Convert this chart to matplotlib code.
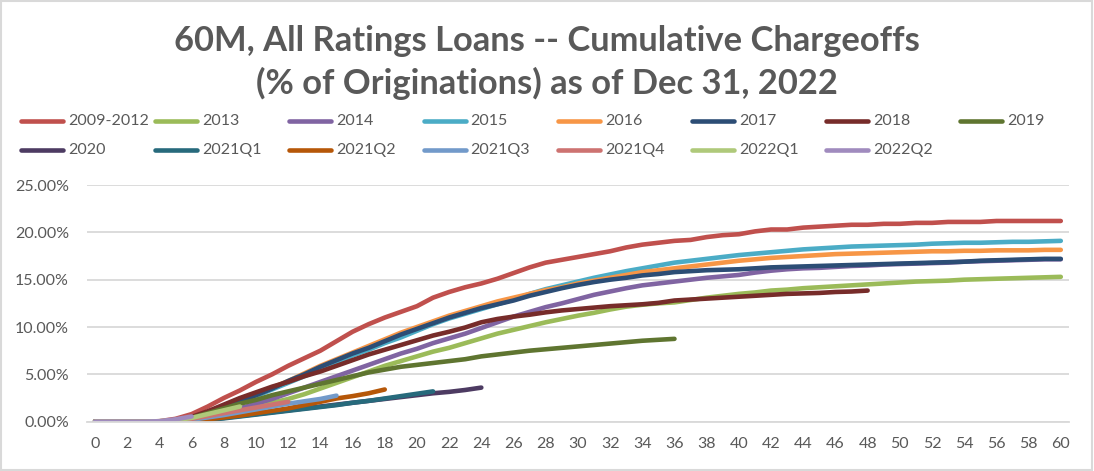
import numpy as np
import matplotlib.pyplot as plt
from matplotlib.lines import Line2D
from matplotlib.patches import Rectangle

plt.rcParams['font.family'] = ['Lato', 'DejaVu Sans']

# cumulative chargeoffs (% of originations) by month on book
vintages = ['2009-2012', '2013', '2014', '2015', '2016', '2017', '2018', '2019',
            '2020', '2021Q1', '2021Q2', '2021Q3', '2021Q4', '2022Q1', '2022Q2']
colors = ['#C0504D', '#9BBB59', '#8064A2', '#4BACC6', '#F79646', '#2C4D75', '#772C2A', '#5F7530',
          '#4D3B62', '#276A7C', '#B65708', '#729ACA', '#CD7371', '#AFC97A', '#A08BBE']

v2009_2012 = [0, 0, 0, 0, 0.05, 0.3, 0.8, 1.6, 2.5, 3.3,
              4.2, 5.0, 5.9, 6.7, 7.5, 8.5, 9.5, 10.3, 11.0, 11.6,
              12.2, 13.1, 13.7, 14.2, 14.6, 15.1, 15.7, 16.3, 16.8, 17.1,
              17.4, 17.7, 18.0, 18.4, 18.7, 18.9, 19.1, 19.2, 19.5, 19.7,
              19.8, 20.1, 20.3, 20.3, 20.5, 20.6, 20.7, 20.8, 20.8, 20.9,
              20.9, 21.0, 21.0, 21.1, 21.1, 21.1, 21.2, 21.2, 21.2, 21.2, 21.2]
v2013 = [0, 0, 0, 0, 0, 0.05, 0.2, 0.5, 0.9, 1.3,
         1.6, 2.0, 2.4, 2.9, 3.5, 4.1, 4.7, 5.3, 5.9, 6.4,
         6.9, 7.4, 7.8, 8.3, 8.8, 9.3, 9.7, 10.1, 10.5, 10.85,
         11.2, 11.5, 11.85, 12.15, 12.35, 12.5, 12.6, 12.85, 13.1, 13.3,
         13.5, 13.65, 13.85, 13.95, 14.1, 14.2, 14.3, 14.4, 14.5, 14.6,
         14.7, 14.8, 14.85, 14.9, 15.0, 15.05, 15.1, 15.15, 15.2, 15.25, 15.3]
v2014 = [0, 0, 0, 0, 0, 0.05, 0.2, 0.5, 0.9, 1.4,
         1.9, 2.4, 3.0, 3.6, 4.2, 4.8, 5.4, 6.0, 6.6, 7.2,
         7.7, 8.3, 8.8, 9.3, 9.9, 10.5, 11.1, 11.6, 12.1, 12.5,
         12.95, 13.4, 13.75, 14.1, 14.4, 14.6, 14.8, 15.0, 15.2, 15.35,
         15.5, 15.75, 15.95, 16.1, 16.2, 16.25, 16.35, 16.45, 16.5, 16.6,
         16.65, 16.7, 16.75, 16.8, 16.9, 16.95, 17.0, 17.05, 17.1, 17.15, 17.15]
v2015 = [0, 0, 0, 0, 0, 0.05, 0.3, 0.8, 1.4, 2.0,
         2.7, 3.4, 4.1, 4.8, 5.5, 6.2, 7.0, 7.6, 8.3, 8.9,
         9.6, 10.3, 10.9, 11.4, 11.9, 12.4, 12.9, 13.5, 14.0, 14.4,
         14.8, 15.2, 15.55, 15.9, 16.2, 16.5, 16.8, 17.0, 17.2, 17.4,
         17.6, 17.75, 17.9, 18.05, 18.2, 18.3, 18.4, 18.5, 18.55, 18.6,
         18.65, 18.7, 18.8, 18.85, 18.9, 18.9, 18.95, 19.0, 19.0, 19.05, 19.1]
v2016 = [0, 0, 0, 0, 0, 0.05, 0.35, 0.9, 1.5, 2.2,
         2.9, 3.6, 4.3, 5.1, 5.9, 6.6, 7.3, 8.0, 8.7, 9.4,
         10.0, 10.6, 11.2, 11.7, 12.2, 12.7, 13.1, 13.5, 13.9, 14.2,
         14.6, 14.9, 15.2, 15.5, 15.8, 16.0, 16.2, 16.4, 16.6, 16.8,
         17.0, 17.15, 17.3, 17.4, 17.5, 17.6, 17.7, 17.75, 17.8, 17.85,
         17.9, 17.95, 18.0, 18.0, 18.05, 18.05, 18.1, 18.1, 18.1, 18.15, 18.15]
v2017 = [0, 0, 0, 0, 0, 0.05, 0.35, 0.85, 1.45, 2.1,
         2.8, 3.5, 4.3, 5.0, 5.8, 6.5, 7.2, 7.8, 8.5, 9.2,
         9.8, 10.4, 11.0, 11.5, 12.0, 12.4, 12.8, 13.3, 13.7, 14.1,
         14.45, 14.75, 15.0, 15.2, 15.45, 15.6, 15.8, 15.9, 16.0, 16.05,
         16.1, 16.2, 16.3, 16.35, 16.4, 16.45, 16.5, 16.55, 16.6, 16.65,
         16.7, 16.75, 16.8, 16.85, 16.9, 17.0, 17.05, 17.1, 17.15, 17.2, 17.2]
v2018 = [0, 0, 0, 0, 0, 0.1, 0.5, 1.1, 1.8, 2.5,
         3.1, 3.7, 4.2, 4.8, 5.3, 5.9, 6.5, 7.1, 7.6, 8.1,
         8.6, 9.1, 9.5, 9.95, 10.5, 10.85, 11.1, 11.3, 11.55, 11.75,
         11.9, 12.05, 12.2, 12.3, 12.4, 12.55, 12.8, 12.9, 13.0, 13.1,
         13.2, 13.3, 13.4, 13.5, 13.55, 13.6, 13.7, 13.75, 13.85]
v2019 = [0, 0, 0, 0, 0, 0.1, 0.4, 0.9, 1.4, 1.9,
         2.3, 2.8, 3.2, 3.6, 4.0, 4.4, 4.8, 5.2, 5.5, 5.8,
         6.0, 6.2, 6.4, 6.6, 6.9, 7.1, 7.3, 7.5, 7.65, 7.8,
         7.95, 8.1, 8.25, 8.4, 8.55, 8.65, 8.75]
v2020 = [0, 0, 0, 0, 0, 0.02, 0.1, 0.25, 0.4, 0.6,
         0.8, 1.0, 1.2, 1.4, 1.6, 1.8, 2.0, 2.2, 2.4, 2.6,
         2.8, 3.0, 3.15, 3.35, 3.6]
v2021q1 = [0, 0, 0, 0, 0, 0.02, 0.1, 0.2, 0.35, 0.55,
           0.75, 0.95, 1.15, 1.35, 1.55, 1.75, 2.0, 2.2, 2.45, 2.7,
           2.95, 3.2]
v2021q2 = [0, 0, 0, 0, 0, 0.02, 0.1, 0.25, 0.45, 0.65,
           0.9, 1.15, 1.4, 1.75, 2.1, 2.45, 2.7, 3.0, 3.4]
v2021q3 = [0, 0, 0, 0, 0, 0.05, 0.2, 0.45, 0.7, 1.0,
           1.3, 1.6, 1.9, 2.15, 2.4, 2.75]
v2021q4 = [0, 0, 0, 0, 0.02, 0.1, 0.3, 0.6, 0.9, 1.2,
           1.5, 1.8, 2.1]
v2022q1 = [0, 0, 0, 0, 0.05, 0.15, 0.4, 0.8, 1.2, 1.6]
v2022q2 = [0, 0, 0, 0, 0.05, 0.25, 0.55]

series = [v2009_2012, v2013, v2014, v2015, v2016, v2017, v2018, v2019,
          v2020, v2021q1, v2021q2, v2021q3, v2021q4, v2022q1, v2022q2]

grey = '#595959'
fig = plt.figure(figsize=(10.94, 4.71), dpi=100)
ax = fig.add_axes([0.0795, 0.1047, 0.8975, 0.5025])

for name, vals, c in zip(vintages, series, colors):
    m = np.arange(len(vals))
    ax.plot(m, np.array(vals) / 100, color=c, lw=3.3, solid_capstyle='round', label=name)

ax.set_xlim(-0.5, 60.5)
ax.set_ylim(0, 0.25)
ax.set_xticks(np.arange(0, 61, 2))
ax.set_yticks(np.arange(0, 0.2501, 0.05))
ax.yaxis.set_major_formatter(plt.FuncFormatter(lambda v, p: '%.2f%%' % (v * 100)))
ax.grid(axis='y', color='#D9D9D9', lw=1.3)
ax.set_axisbelow(True)
for s in ['top', 'right', 'left']:
    ax.spines[s].set_visible(False)
ax.spines['bottom'].set_color('#D9D9D9')
ax.spines['bottom'].set_linewidth(1.3)
ax.tick_params(axis='both', length=0, labelsize=11.5, labelcolor=grey)
ax.tick_params(axis='y', pad=13)
ax.tick_params(axis='x', pad=11)

fig.text(0.5, 0.913, '60M, All Ratings Loans -- Cumulative Chargeoffs', ha='center', va='center',
         fontsize=24.8, fontweight='bold', color=grey)
fig.text(0.5, 0.822, '(% of Originations) as of Dec 31, 2022', ha='center', va='center',
         fontsize=24.8, fontweight='bold', color=grey)

# legend laid out on a fixed grid like the spreadsheet one
W, H = 1094.0, 471.0
for i, (name, c) in enumerate(zip(vintages, colors)):
    col, row = i % 8, i // 8
    x0 = 21 + 134.2 * col
    y = 121 + 29 * row
    fig.add_artist(Line2D([x0 / W, (x0 + 42) / W], [1 - y / H, 1 - y / H], color=c, lw=3.3,
                          solid_capstyle='round', transform=fig.transFigure))
    fig.text((x0 + 47) / W, 1 - y / H, name, ha='left', va='center', fontsize=11.5, color=grey)

fig.add_artist(Rectangle((0.001, 0.002), 0.997, 0.996, transform=fig.transFigure,
                         fill=False, edgecolor='#D9D9D9', lw=1.5))

fig.savefig('out.png', dpi=100)
